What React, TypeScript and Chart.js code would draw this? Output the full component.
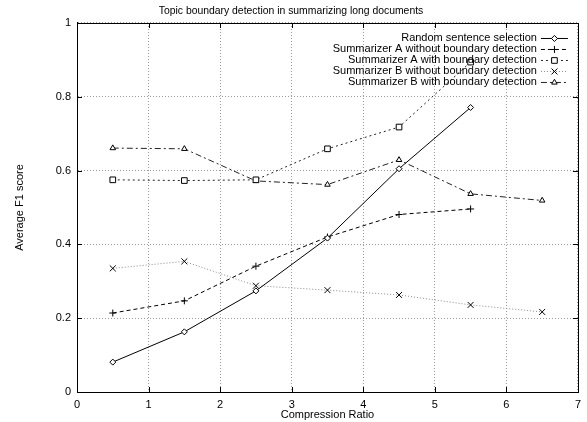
import React, { useEffect, useRef } from "react";
import { Chart, registerables } from "chart.js";
import { drawPoint } from "chart.js/helpers";

Chart.register(...registerables);

const titleText = "Topic boundary detection in summarizing long documents";
const xTitle = "Compression Ratio";
const yTitle = "Average F1 score";

const xValues = [0.5, 1.5, 2.5, 3.5, 4.5, 5.5, 6.5];
const randomSel = [0.081, 0.163, 0.274, 0.417, 0.605, 0.771];
const aWithout = [0.214, 0.247, 0.341, 0.42, 0.481, 0.496];
const aWith = [0.575, 0.573, 0.575, 0.659, 0.718, 0.894];
const bWithout = [0.335, 0.354, 0.288, 0.276, 0.263, 0.236, 0.217];
const bWith = [0.661, 0.659, 0.572, 0.562, 0.629, 0.537, 0.519];

const seriesNames = [
  "Random sentence selection",
  "Summarizer A without boundary detection",
  "Summarizer A with boundary detection",
  "Summarizer B without boundary detection",
  "Summarizer B with boundary detection",
];

const FONT = "'Liberation Sans', Arial, Helvetica, sans-serif";

const toPts = (ys: number[]) => ys.map((y, i) => ({ x: xValues[i], y }));

const frame = {
  id: "frame",
  beforeDatasetsDraw(chart: any) {
    const { ctx, chartArea: a, scales } = chart;
    ctx.save();
    ctx.strokeStyle = "#000";
    ctx.lineWidth = 1;
    ctx.setLineDash([]);
    const tl = 5;
    ctx.beginPath();
    scales.x.ticks.forEach((t: any) => {
      const px = Math.round(scales.x.getPixelForValue(t.value)) + 0.5;
      ctx.moveTo(px, a.bottom);
      ctx.lineTo(px, a.bottom - tl);
      ctx.moveTo(px, a.top);
      ctx.lineTo(px, a.top + tl);
    });
    scales.y.ticks.forEach((t: any) => {
      const py = Math.round(scales.y.getPixelForValue(t.value)) + 0.5;
      ctx.moveTo(a.left, py);
      ctx.lineTo(a.left + tl, py);
      ctx.moveTo(a.right, py);
      ctx.lineTo(a.right - tl, py);
    });
    ctx.stroke();
    ctx.strokeRect(
      Math.round(a.left) + 0.5,
      Math.round(a.top) + 0.5,
      Math.round(a.right - a.left),
      Math.round(a.bottom - a.top)
    );
    ctx.restore();
  },
};

const legendRight = {
  id: "legendRight",
  afterDraw(chart: any) {
    const { ctx, chartArea: a } = chart;
    ctx.save();
    ctx.font = `11px ${FONT}`;
    ctx.textAlign = "right";
    ctx.textBaseline = "middle";
    chart.data.datasets.forEach((ds: any, i: number) => {
      const y = a.top + 15 + i * 11;
      ctx.fillStyle = "#000";
      ctx.fillText(ds.label, a.right - 41, y);
      const x0 = a.right - 37;
      const x1 = a.right - 10;
      ctx.strokeStyle = ds.borderColor;
      ctx.lineWidth = 1;
      ctx.setLineDash(ds.borderDash || []);
      ctx.beginPath();
      ctx.moveTo(x0, y + 0.5);
      ctx.lineTo(x1, y + 0.5);
      ctx.stroke();
      ctx.setLineDash([]);
      ctx.strokeStyle = ds.pointBorderColor;
      ctx.fillStyle = "#fff";
      ctx.lineWidth = 1;
      drawPoint(ctx, { pointStyle: ds.pointStyle, radius: ds.pointRadius, borderWidth: 1, rotation: 0 } as any, (x0 + x1) / 2, y + 0.5);
    });
    ctx.restore();
  },
};

export default function App() {
  const ref = useRef<HTMLCanvasElement>(null);
  useEffect(() => {
    if (!ref.current) return;
    const mk = (label: string, data: number[], color: string, ptColor: string, dash: number[], style: string, r: number) => ({
      label,
      data: toPts(data),
      borderColor: color,
      borderWidth: 1,
      borderDash: dash,
      pointStyle: style,
      pointRadius: r,
      pointBorderColor: ptColor,
      pointBackgroundColor: "#fff",
      pointBorderWidth: 1,
      backgroundColor: "#fff",
      fill: false,
      tension: 0,
    });
    const chart = new Chart(ref.current, {
      type: "line",
      data: {
        datasets: [
          mk(seriesNames[0], randomSel, "#000", "#000", [], "rectRot", 3),
          mk(seriesNames[1], aWithout, "#000", "#000", [4, 3], "cross", 3.5),
          mk(seriesNames[2], aWith, "#222", "#000", [2, 3], "rect", 4),
          mk(seriesNames[3], bWithout, "#888", "#000", [1, 2], "crossRot", 4.2),
          mk(seriesNames[4], bWith, "#222", "#000", [6, 3, 2, 3], "triangle", 3.2),
        ] as any,
      },
      options: {
        animation: false,
        responsive: true,
        maintainAspectRatio: false,
        layout: { padding: { left: 0, right: 5, top: 0, bottom: 0 } },
        plugins: {
          legend: { display: false },
          tooltip: { enabled: false },
          title: {
            display: true,
            text: titleText,
            color: "#000",
            font: { family: FONT, size: 10.4, weight: "normal" as any },
            padding: { top: 4.5, bottom: 6 },
          },
        },
        scales: {
          x: {
            type: "linear",
            min: 0,
            max: 7,
            afterFit: (s: any) => {
              s.height = 30;
            },
            ticks: {
              stepSize: 1,
              color: "#000",
              padding: 6,
              maxRotation: 0,
              font: { family: FONT, size: 11 },
            },
            grid: { color: "#999", drawTicks: false, lineWidth: 1 },
            border: { display: true, color: "#000", dash: [1, 2] },
            title: {
              display: true,
              text: xTitle,
              color: "#000",
              font: { family: FONT, size: 11 },
              padding: { top: 0, bottom: 0 },
            },
          },
          y: {
            type: "linear",
            min: 0,
            max: 1,
            afterFit: (s: any) => {
              s.width = 77;
            },
            ticks: {
              stepSize: 0.2,
              color: "#000",
              padding: 6,
              font: { family: FONT, size: 11 },
              callback: (v: any) => String(Math.round(Number(v) * 10) / 10),
            },
            grid: { color: "#999", drawTicks: false, lineWidth: 1 },
            border: { display: true, color: "#000", dash: [1, 2] },
            title: {
              display: true,
              text: yTitle,
              color: "#000",
              font: { family: FONT, size: 11 },
              padding: { top: 13, bottom: 0 },
            },
          },
        },
      },
      plugins: [frame, legendRight],
    });
    return () => chart.destroy();
  }, []);
  return (
    <div style={{ position: "fixed", left: 0, top: 0, width: 587, height: 422, background: "#fff" }}>
      <canvas ref={ref} />
    </div>
  );
}
